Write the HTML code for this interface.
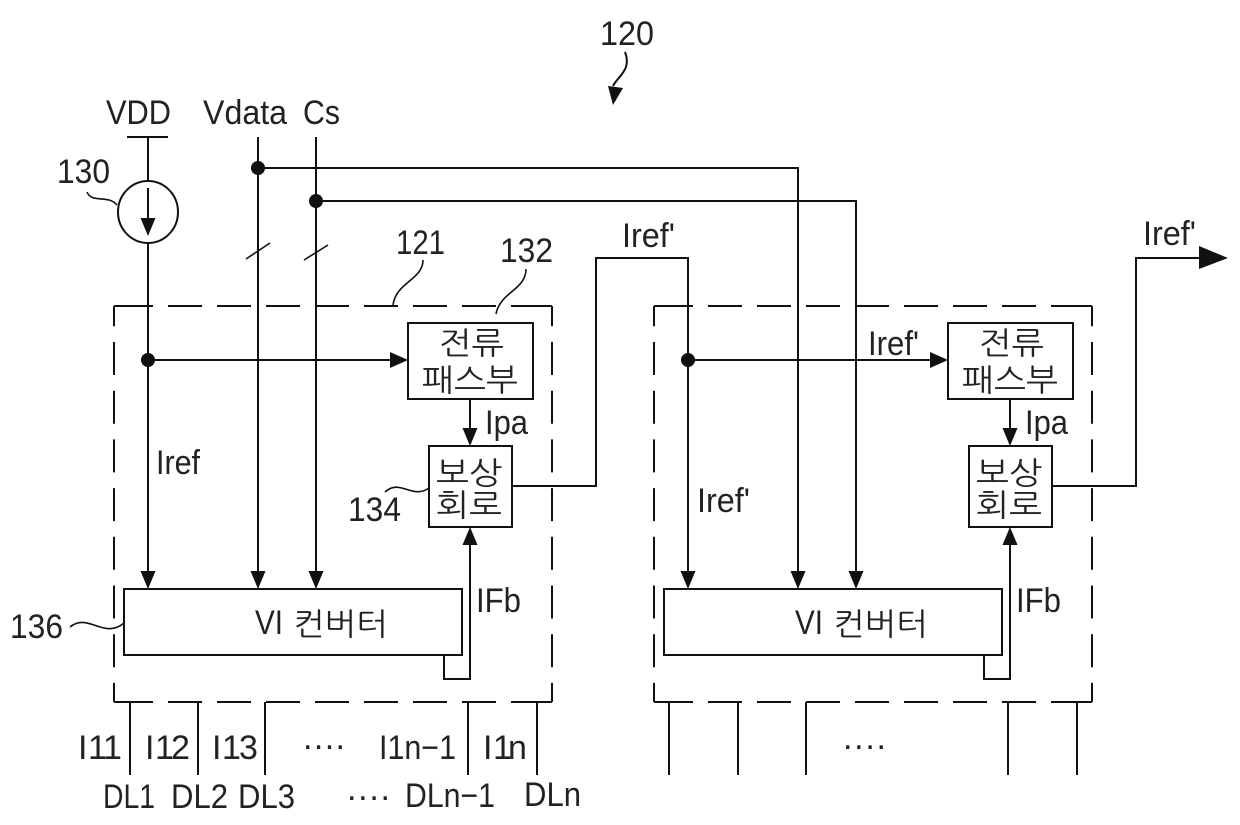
<!DOCTYPE html>
<html><head><meta charset="utf-8"><style>
html,body{margin:0;padding:0;background:#fff}
svg{display:block}
text{font-family:"Liberation Sans","Noto Sans CJK KR",sans-serif;font-size:34px;fill:#222}
.k{font-family:"NanumGothic","Noto Sans CJK KR",sans-serif;font-size:31px}
.l{fill:none;stroke:#111;stroke-width:2}
.t{fill:none;stroke:#111;stroke-width:1.6}
.h{stroke:#111;stroke-width:2;fill:none;stroke-dasharray:34 15}
.v{stroke:#111;stroke-width:2;fill:none;stroke-dasharray:33 15.7;stroke-dashoffset:12.7}
</style></head><body>
<svg width="1240" height="825" viewBox="0 0 1240 825" xmlns="http://www.w3.org/2000/svg">
<defs>
<g id="d"><polygon points="-7.5,-18 7.5,-18 0,0" fill="#111"/></g>
<g id="u"><polygon points="-7.5,18 7.5,18 0,0" fill="#111"/></g>
<g id="r"><polygon points="-18,-8 -18,8 0,0" fill="#111"/></g>
<g id="box">
<path class="h" d="M119 306H552M119 702H552"/>
<path class="l" d="M114 306H119M114 702H119M545 306H552M545 702H552"/>
<path class="v" d="M114 306V702M552 306V702"/>
<rect class="l" x="408" y="323" width="125" height="76"/>
<rect class="l" x="429" y="446" width="83" height="81"/>
<rect class="l" x="124" y="589" width="338" height="66"/>
<path class="l" d="M470 399V432M444 655V679H470V540"/>
<use href="#d" x="470" y="446"/>
<use href="#u" x="470" y="527"/>
<text class="k" x="439" y="354" textLength="65" lengthAdjust="spacingAndGlyphs">전류</text>
<text class="k" x="422" y="391" textLength="96" lengthAdjust="spacingAndGlyphs">패스부</text>
<text class="k" x="436" y="484" textLength="66" lengthAdjust="spacingAndGlyphs">보상</text>
<text class="k" x="436" y="516" textLength="66" lengthAdjust="spacingAndGlyphs">회로</text>
<text x="255" y="634" textLength="28" lengthAdjust="spacingAndGlyphs">VI</text>
<text class="k" x="293" y="635" textLength="95" lengthAdjust="spacingAndGlyphs">컨버터</text>
<text x="485" y="434" textLength="43" lengthAdjust="spacingAndGlyphs">Ipa</text>
<text x="476" y="612" textLength="45" lengthAdjust="spacingAndGlyphs">IFb</text>
</g>
</defs>

<use href="#box"/>
<use href="#box" x="540"/>

<!-- VDD -->
<path class="l" d="M127 137H168M148 137V181M148 243V572M148 188V220"/>
<ellipse class="l" cx="148" cy="212" rx="30" ry="31"/>
<use href="#d" x="148" y="236"/>
<use href="#d" x="148" y="589"/>
<ellipse cx="148" cy="360" rx="7" ry="7" fill="#111"/>
<path class="l" d="M148 360H392"/>
<use href="#r" x="408" y="360"/>

<!-- Vdata, Cs -->
<path class="l" d="M258 137V572M316 137V572M258 168H798V572M316 201H856V572"/>
<use href="#d" x="258" y="589"/>
<use href="#d" x="316" y="589"/>
<use href="#d" x="798" y="589"/>
<use href="#d" x="856" y="589"/>
<ellipse cx="258" cy="168" rx="7" ry="7" fill="#111"/>
<ellipse cx="316" cy="201" rx="7" ry="7" fill="#111"/>
<path class="t" d="M246 259L270 243M304 260L328 245"/>

<!-- Iref' -->
<path class="l" d="M512 486H596V258H688V572M688 360H932"/>
<use href="#d" x="688" y="589"/>
<ellipse cx="688" cy="360" rx="7" ry="7" fill="#111"/>
<use href="#r" x="948" y="360"/>
<path class="l" d="M1052 486H1136V258H1202"/>
<polygon points="1199,246 1199,269 1228,258" fill="#111"/>

<!-- Outputs -->
<path class="l" d="M130 702V775M198 702V775M265 702V775M468 702V775M537 702V775M669 702V775M738 702V775M806 702V775M1008 702V775M1077 702V775"/>

<!-- Leaders -->
<path class="t" d="M87 192C92 204 108 194 117 205"/>
<path class="t" d="M423 260C423 280 396 282 393 305"/>
<path class="t" d="M526 269C526 290 500 292 496 314"/>
<path class="t" d="M385 492C400 478 412 500 429 488"/>
<path class="t" d="M70 627C88 612 104 640 124 623"/>
<path class="l" d="M625 52C632 70 618 76 613 86"/>
<polygon points="608,86 623,88 613,105" fill="#111"/>

<!-- Labels -->
<text x="600" y="45" textLength="54" lengthAdjust="spacingAndGlyphs">120</text>
<text x="106" y="124" textLength="65" lengthAdjust="spacingAndGlyphs">VDD</text>
<text x="203" y="124" textLength="84" lengthAdjust="spacingAndGlyphs">Vdata</text>
<text x="303" y="124" textLength="37" lengthAdjust="spacingAndGlyphs">Cs</text>
<text x="57" y="183" textLength="53" lengthAdjust="spacingAndGlyphs">130</text>
<text x="396" y="254" textLength="49" lengthAdjust="spacingAndGlyphs">121</text>
<text x="500" y="262" textLength="53" lengthAdjust="spacingAndGlyphs">132</text>
<text x="622" y="247" textLength="53" lengthAdjust="spacingAndGlyphs">Iref'</text>
<text x="1143" y="245" textLength="53" lengthAdjust="spacingAndGlyphs">Iref'</text>
<text x="868" y="355" textLength="51" lengthAdjust="spacingAndGlyphs">Iref'</text>
<text x="697" y="512" textLength="53" lengthAdjust="spacingAndGlyphs">Iref'</text>
<text x="156" y="474" textLength="44" lengthAdjust="spacingAndGlyphs">Iref</text>
<text x="348" y="521" textLength="53" lengthAdjust="spacingAndGlyphs">134</text>
<text x="10" y="638" textLength="53" lengthAdjust="spacingAndGlyphs">136</text>
<text x="78 88 103" y="759">I11</text>
<text x="145 155 171" y="759">I12</text>
<text x="212 222 239" y="759">I13</text>
<text x="379" y="759" textLength="77" lengthAdjust="spacingAndGlyphs">I1n−1</text>
<text x="483 493 508" y="759">I1n</text>
<text x="103" y="808" textLength="52" lengthAdjust="spacingAndGlyphs">DL1</text>
<text x="171" y="808" textLength="57" lengthAdjust="spacingAndGlyphs">DL2</text>
<text x="238" y="808" textLength="57" lengthAdjust="spacingAndGlyphs">DL3</text>
<text x="405" y="807" textLength="90" lengthAdjust="spacingAndGlyphs">DLn−1</text>
<text x="524" y="806" textLength="57" lengthAdjust="spacingAndGlyphs">DLn</text>
<text x="303" y="749" textLength="42" lengthAdjust="spacing">....</text>
<text x="347" y="800" textLength="43" lengthAdjust="spacing">....</text>
<text x="843" y="749" textLength="43" lengthAdjust="spacing">....</text>
</svg>
</body></html>
